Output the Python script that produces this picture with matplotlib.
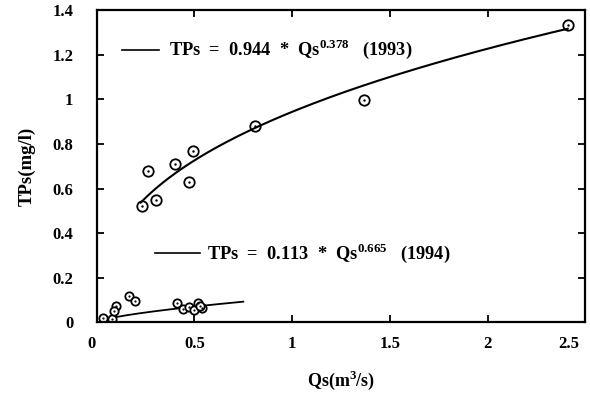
import numpy as np
import matplotlib
matplotlib.use("Agg")
import matplotlib.pyplot as plt
import matplotlib.transforms as mtransforms

# 1993 observations
qs_1993 = [0.23, 0.26, 0.305, 0.40, 0.47, 0.49, 0.81, 1.37, 2.41]
tp_1993 = [0.52, 0.68, 0.55, 0.71, 0.63, 0.77, 0.88, 0.995, 1.335]
# 1994 observations
qs_1994 = [0.03, 0.08, 0.10, 0.09, 0.167, 0.197, 0.41, 0.44, 0.47, 0.50, 0.52, 0.54, 0.53]
tp_1994 = [0.019, 0.017, 0.074, 0.050, 0.119, 0.098, 0.086, 0.060, 0.070, 0.056, 0.086, 0.063, 0.075]

# power-law fits
a_1993, b_1993, range_1993 = 0.944, 0.378, (0.225, 2.41)
a_1994, b_1994, range_1994 = 0.113, 0.665, (0.10, 0.75)

xticks = [0, 0.5, 1, 1.5, 2, 2.5]
xticklabels = ["0", "0.5", "1", "1.5", "2", "2.5"]
yticks = [0, 0.2, 0.4, 0.6, 0.8, 1.0, 1.2, 1.4]
yticklabels = ["0", "0.2", "0.4", "0.6", "0.8", "1", "1.2", "1.4"]

plt.rcParams['font.family'] = ['Liberation Serif', 'DejaVu Serif']
plt.rcParams['font.weight'] = 'bold'
plt.rcParams['mathtext.fontset'] = 'custom'
plt.rcParams['mathtext.rm'] = 'Liberation Serif:bold'
plt.rcParams['mathtext.bf'] = 'Liberation Serif:bold'

fig = plt.figure(figsize=(5.9, 3.94), dpi=100)
ax = fig.add_axes([0.164, 0.1815, 0.828, 0.793])

x1 = np.linspace(range_1993[0], range_1993[1], 200)
ax.plot(x1, a_1993 * x1 ** b_1993, color='black', lw=1.5)
x2 = np.linspace(range_1994[0], range_1994[1], 200)
ax.plot(x2, a_1994 * x2 ** b_1994, color='black', lw=1.3)

ax.plot(qs_1993, tp_1993, 'o', mfc='none', mec='black', ms=7.5, mew=1.3)
ax.plot(qs_1993, tp_1993, '.', color='black', ms=1.5)
ax.plot(qs_1994, tp_1994, 'o', mfc='white', mec='black', ms=6, mew=1.3)
ax.plot(qs_1994, tp_1994, '.', color='black', ms=1.2)

# equation labels
ax.plot([0.13, 0.32], [1.222, 1.222], color='black', lw=1.2)
ax.text(0.37, 1.222, r"TPs  =  0.944  *  Qs$^{0.378}$   (1993)", fontsize=13.2,
        fontweight='bold', va='center', ha='left')
ax.plot([0.30, 0.53], [0.31, 0.31], color='black', lw=1.2)
ax.text(0.565, 0.31, r"TPs  =  0.113  *  Qs$^{0.665}$   (1994)", fontsize=13.2,
        fontweight='bold', va='center', ha='left')

ax.set_xlim(0, 2.5)
ax.set_ylim(0, 1.4)
ax.set_xticks(xticks)
ax.set_xticklabels(xticklabels)
ax.set_yticks(yticks)
ax.set_yticklabels(yticklabels)
ax.tick_params(direction='in', length=5, width=1.3, top=True, right=True,
               labelsize=12)
ax.tick_params(axis='y', pad=17)
ax.tick_params(axis='x', pad=10)
for s in ax.spines.values():
    s.set_linewidth(1.6)

# shift first and last x tick labels as in the reference
xl = ax.get_xticklabels()
xl[0].set_transform(xl[0].get_transform() + mtransforms.ScaledTranslation(-5 / 100, 0, fig.dpi_scale_trans))
xl[-1].set_transform(xl[-1].get_transform() + mtransforms.ScaledTranslation(-17 / 100, 0, fig.dpi_scale_trans))

ax.set_xlabel(r"Qs(m$^3$/s)", fontsize=13, fontweight='bold', labelpad=12)
ax.set_ylabel("TPs(mg/l)", fontsize=13.5, fontweight='bold', labelpad=12)

fig.savefig("out.png", dpi=100)
